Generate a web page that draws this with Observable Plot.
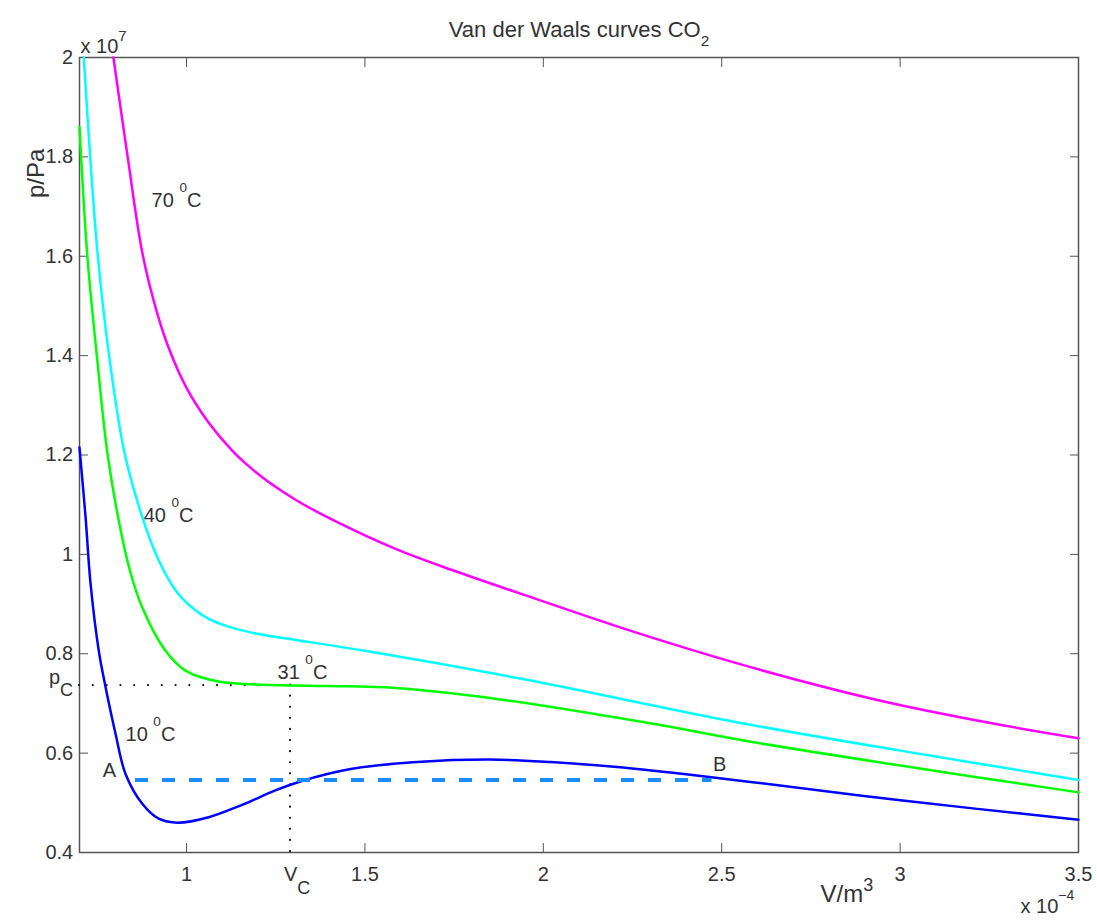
<!DOCTYPE html>
<html><head><meta charset="utf-8">
<script src="https://cdn.jsdelivr.net/npm/d3@7"></script>
<script src="https://cdn.jsdelivr.net/npm/@observablehq/plot@0.6"></script>
<style>html,body{margin:0;padding:0;background:#fff;}</style>
</head><body><div id="chart"></div>
<script>
// ---- data (V in 1e-4 m^3, p in 1e7 Pa) ----
const xDomain = [0.7, 3.5];
const yDomain = [0.4, 2];
const xTicks = [1, 1.5, 2, 2.5, 3, 3.5];
const yTicks = [0.4, 0.6, 0.8, 1, 1.2, 1.4, 1.6, 1.8, 2];

const temps = ["70 °C", "40 °C", "31 °C", "10 °C"];
const colors = ["#ff00ff", "#00ffff", "#00ff00", "#0000ff"];

const V70 = [0.795, 0.835, 0.875, 0.910, 0.945, 1.0, 1.060, 1.128, 1.180, 1.235, 1.310, 1.4, 1.586, 1.75, 1.936, 2.25, 2.581, 2.936, 3.25, 3.5];
const P70 = [2.0, 1.80, 1.611, 1.505, 1.425, 1.335, 1.267, 1.209, 1.174, 1.143, 1.108, 1.073, 1.011, 0.967, 0.921, 0.845, 0.773, 0.707, 0.661, 0.630];

const V40 = [0.712, 0.730, 0.750, 0.782, 0.826, 0.876, 0.922, 0.969, 1.010, 1.062, 1.120, 1.179, 1.249, 1.500, 1.936, 2.300, 2.581, 3.001, 3.5];
const P40 = [2.0, 1.80, 1.611, 1.405, 1.205, 1.075, 0.988, 0.928, 0.896, 0.870, 0.854, 0.843, 0.834, 0.806, 0.750, 0.697, 0.657, 0.605, 0.546];

const V31 = [0.70, 0.722, 0.750, 0.778, 0.810, 0.843, 0.876, 0.937, 0.997, 1.090, 1.249, 1.400, 1.586, 1.880, 2.300, 2.581, 3.001, 3.5];
const P31 = [1.86, 1.600, 1.390, 1.205, 1.068, 0.963, 0.893, 0.810, 0.766, 0.744, 0.737, 0.735, 0.731, 0.708, 0.660, 0.623, 0.575, 0.521];

const V10 = [0.70, 0.717, 0.731, 0.754, 0.773, 0.801, 0.829, 0.876, 0.922, 0.975, 1.062, 1.156, 1.249, 1.319, 1.460, 1.646, 1.850, 2.020, 2.207, 2.394, 2.581, 3.001, 3.5];
const P10 = [1.215, 1.075, 0.941, 0.806, 0.733, 0.639, 0.558, 0.498, 0.468, 0.460, 0.471, 0.496, 0.525, 0.543, 0.568, 0.582, 0.587, 0.582, 0.572, 0.558, 0.542, 0.505, 0.466];

const pc = 0.737, Vc = 1.29;          // critical point
const tieP = 0.546, tieV = [0.857, 2.473]; // A-B tie line

const curveLabels = ["70 ^[68,-73]{0}C", "40 ^[68,-73]{0}C", "31 ^[68,-73]{0}C", "10 ^[68,-73]{0}C"];
const curveLabelV = [0.902, 0.880, 1.255, 0.829];
const curveLabelP = [1.713, 1.079, 0.763, 0.638];
const pointLabels = ["A", "B"];
const pointLabelV = [0.784, 2.494];
const pointLabelP = [0.564, 0.576];

const titleText = "Van der Waals curves CO_[70,41]{2}";
const xLabel = "V/m^[75,-46]{3}";
const yLabel = "p/Pa";
const xExp = "x 10^[70,-65]{\u22124}";
const yExp = "x 10^[75,-60]{7}";
const pcLabel = "p_[90,60]{C}";
const vcLabel = "V_[90,62]{C}";

// ---- table ----
const series = [[V70, P70], [V40, P40], [V31, P31], [V10, P10]];
const rows = series.flatMap(([V, P], k) => V.map((v, i) => ({V: v, p: P[i], T: temps[k]})));

const ink = "#333", axisInk = "#555";
const font = "'Liberation Sans', Arial, Helvetica, sans-serif";

const chart = Plot.plot({
  width: 1097, height: 923,
  marginTop: 57, marginBottom: 71, marginLeft: 79, marginRight: 19,
  style: {fontFamily: font, fontSize: "20px", color: ink, background: "#fff", overflow: "visible"},
  x: {domain: xDomain},
  y: {domain: yDomain},
  color: {domain: temps, range: colors},
  marks: [
    Plot.frame({stroke: axisInk, strokeWidth: 1.5}),
    Plot.axisX(xTicks, {anchor: "bottom", tickSize: -9, tickPadding: 23.5, tickFormat: d => `${d}`, stroke: axisInk, fill: ink, label: null, fontSize: 20}),
    Plot.axisX(xTicks, {anchor: "top", tickSize: -9, tickFormat: () => "", stroke: axisInk, label: null}),
    Plot.axisY(yTicks, {anchor: "left", tickSize: -9, tickPadding: 15.3, tickFormat: d => `${d}`, stroke: axisInk, fill: ink, label: null, fontSize: 20}),
    Plot.axisY(yTicks, {anchor: "right", tickSize: -9, tickFormat: () => "", stroke: axisInk, label: null}),
    // critical point dotted guides
    Plot.ruleY([pc], {x1: () => xDomain[0], x2: () => Vc, stroke: "#111", strokeWidth: 2.2, strokeLinecap: "round", strokeDasharray: "0 13.8"}),
    Plot.ruleX([Vc], {y1: () => pc, y2: () => yDomain[0], stroke: "#111", strokeWidth: 2.2, strokeLinecap: "round", strokeDasharray: "0 11.1"}),
    // isotherms
    Plot.line(rows, {x: "V", y: "p", z: "T", stroke: "T", curve: "catmull-rom", strokeWidth: 2.5}),
    // tie line A-B
    Plot.ruleY([tieP], {x1: () => tieV[0], x2: () => tieV[1], stroke: "#1a8cff", strokeWidth: 4, strokeDasharray: "13 14"}),
    // labels
    Plot.text(curveLabels, {x: (d, i) => curveLabelV[i], y: (d, i) => curveLabelP[i], text: d => d, textAnchor: "start", fill: ink, fontSize: 20}),
    Plot.text(pointLabels, {x: (d, i) => pointLabelV[i], y: (d, i) => pointLabelP[i], text: d => d, textAnchor: "middle", fill: ink, fontSize: 20}),
    Plot.text([pcLabel], {x: () => xDomain[0], y: () => pc, text: d => d, dx: -6.5, dy: -7.4, textAnchor: "end", fill: ink, fontSize: 20}),
    Plot.text([vcLabel], {x: () => Vc, y: () => yDomain[0], text: d => d, dx: -6, dy: 14.5, lineAnchor: "top", textAnchor: "start", fill: ink, fontSize: 20}),
    Plot.text([titleText], {frameAnchor: "top", text: d => d, dy: -36, fill: ink, fontSize: 22}),
    Plot.text([yExp], {frameAnchor: "top-left", text: d => d, dx: 1, dy: -18.4, textAnchor: "start", fill: ink, fontSize: 20}),
    Plot.text([xExp], {frameAnchor: "bottom-right", text: d => d, dx: -58, dy: 60.6, textAnchor: "start", fill: ink, fontSize: 20}),
    Plot.text([xLabel], {frameAnchor: "bottom-right", text: d => d, dx: -258, dy: 49.3, textAnchor: "start", fill: ink, fontSize: 24}),
    Plot.text([yLabel], {frameAnchor: "top-left", text: d => d, dx: -53, dy: 140.5, rotate: -90, fill: ink, fontSize: 24})
  ]
});
document.getElementById("chart").appendChild(chart);

// superscript / subscript rendering as tspans: ^[size%,shift%]{text} / _[..]{text}
function rich(root) {
  root.querySelectorAll("text").forEach(el => {
    const s = el.textContent;
    const re = /([\^_])(?:\[(\d+),(-?\d+)\])?\{([^}]*)\}/g;
    if (!/[\^_](?:\[[^\]]*\])?\{/.test(s)) return;
    const base = parseFloat(getComputedStyle(el).fontSize) || 20;
    const parts = []; let last = 0, m;
    while ((m = re.exec(s))) {
      if (m.index > last) parts.push({t: s.slice(last, m.index), size: null, shift: 0});
      const sup = m[1] === "^";
      const size = m[2] ? +m[2] / 100 : (sup ? 0.7 : 0.85);
      const shift = m[3] ? +m[3] / 100 : (sup ? -0.6 : 0.6);
      parts.push({t: m[4], size, shift});
      last = re.lastIndex;
    }
    if (last < s.length) parts.push({t: s.slice(last), size: null, shift: 0});
    while (el.firstChild) el.removeChild(el.firstChild);
    let cur = 0;
    for (const p of parts) {
      const ts = document.createElementNS("http://www.w3.org/2000/svg", "tspan");
      ts.textContent = p.t;
      const target = p.shift * base;
      if (target !== cur) ts.setAttribute("dy", (target - cur).toFixed(2));
      cur = target;
      if (p.size) ts.setAttribute("font-size", (p.size * base).toFixed(2));
      el.appendChild(ts);
    }
  });
}
rich(chart);
</script>
</body></html>
